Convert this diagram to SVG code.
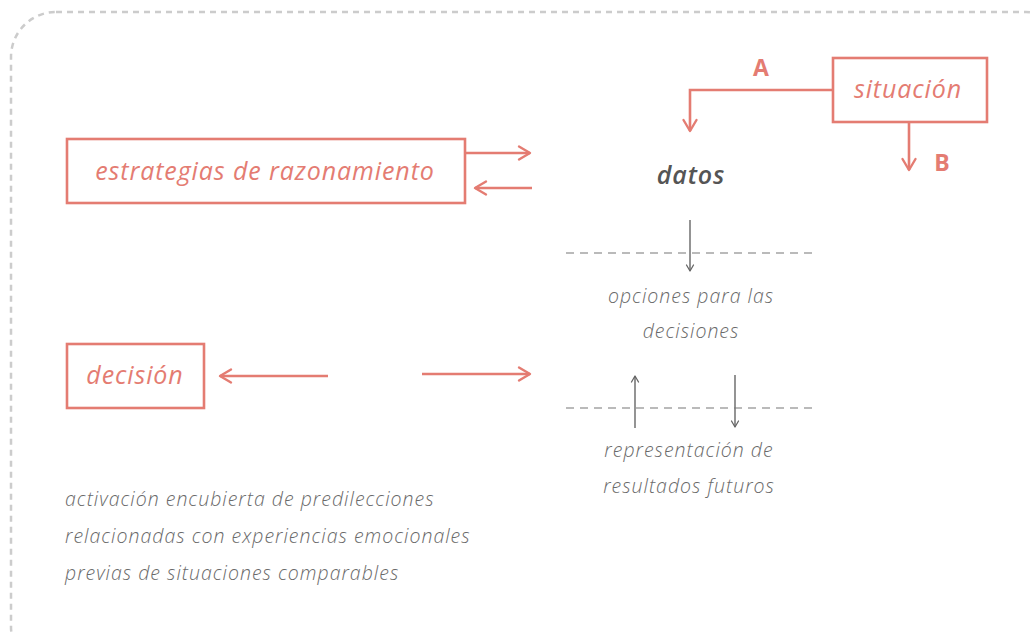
<svg xmlns="http://www.w3.org/2000/svg" width="1034" height="636" viewBox="0 0 1034 636">
<defs>
<marker id="ac" markerUnits="userSpaceOnUse" markerWidth="20" markerHeight="20" refX="10" refY="10" orient="auto" overflow="visible">
<path d="M-1,3.5 L10,10 L-1,16.5" fill="none" stroke="#E47C72" stroke-width="2.4" stroke-linecap="round" stroke-linejoin="round"/>
</marker>
<marker id="ag" markerUnits="userSpaceOnUse" markerWidth="12" markerHeight="12" refX="6" refY="6" orient="auto" overflow="visible">
<path d="M0,2.5 L6,6 L0,9.5" fill="none" stroke="#666" stroke-width="1.3" stroke-linecap="round" stroke-linejoin="round"/>
</marker>
</defs>
<style>
.box{fill:none;stroke:#E47C72;stroke-width:2.6}
.cl{fill:none;stroke:#E47C72;stroke-width:2.6;marker-end:url(#ac)}
.gl{fill:none;stroke:#666;stroke-width:1.4;marker-end:url(#ag)}
.dl{fill:none;stroke:#777;stroke-width:1.2;stroke-dasharray:8 6}
.nt{font-family:"Open Sans","Noto Sans",sans-serif;font-style:italic;font-size:25px;letter-spacing:0.9px;fill:#E47C72;text-anchor:middle}
.lt{font-family:"Open Sans","Noto Sans",sans-serif;font-weight:bold;font-size:23px;fill:#E47C72;text-anchor:middle}
.gt{font-family:"Open Sans","Noto Sans",sans-serif;font-style:italic;font-weight:300;font-size:19.5px;letter-spacing:1px;fill:#6a6a6a}
</style>
<rect x="11" y="12" width="1060" height="660" rx="45" ry="45" fill="none" stroke="#CCCCCC" stroke-width="2.5" stroke-dasharray="6 5"/>
<g id="connectors">
<path class="cl" d="M833,90 H690 V131"/>
<path class="cl" d="M909,122 V170"/>
<path class="cl" d="M465,153 H530"/>
<path class="cl" d="M532,188 H475"/>
<path class="cl" d="M328,376 H220"/>
<path class="cl" d="M422,374 H530"/>
<path class="gl" d="M690,220 V271"/>
<path class="gl" d="M635,428 V376"/>
<path class="gl" d="M735,375 V427"/>
<path class="dl" d="M566,253 H815"/>
<path class="dl" d="M566,408 H815"/>
</g>
<g id="label-A"><text class="lt" x="761" y="76">A</text></g>
<g id="label-B"><text class="lt" x="942" y="171">B</text></g>
<g id="estrategias">
<rect class="box" x="67" y="139" width="398" height="64"/>
<text class="nt" x="265" y="180">estrategias de razonamiento</text>
</g>
<g id="situacion">
<rect class="box" x="833" y="58" width="154" height="64"/>
<text class="nt" x="908" y="98">situación</text>
</g>
<g id="decision">
<rect class="box" x="67" y="344" width="137" height="64"/>
<text class="nt" x="135" y="384">decisión</text>
</g>
<g id="datos"><text class="nt" x="691" y="184" style="fill:#555;font-weight:600">datos</text></g>
<g id="opciones">
<text class="gt" x="691" y="303" text-anchor="middle">opciones para las</text>
<text class="gt" x="691" y="338" text-anchor="middle">decisiones</text>
</g>
<g id="representacion">
<text class="gt" x="689" y="457" text-anchor="middle">representación de</text>
<text class="gt" x="689" y="493" text-anchor="middle">resultados futuros</text>
</g>
<g id="activacion">
<text class="gt" x="65" y="506">activación encubierta de predilecciones</text>
<text class="gt" x="65" y="543">relacionadas con experiencias emocionales</text>
<text class="gt" x="65" y="580">previas de situaciones comparables</text>
</g>
</svg>
